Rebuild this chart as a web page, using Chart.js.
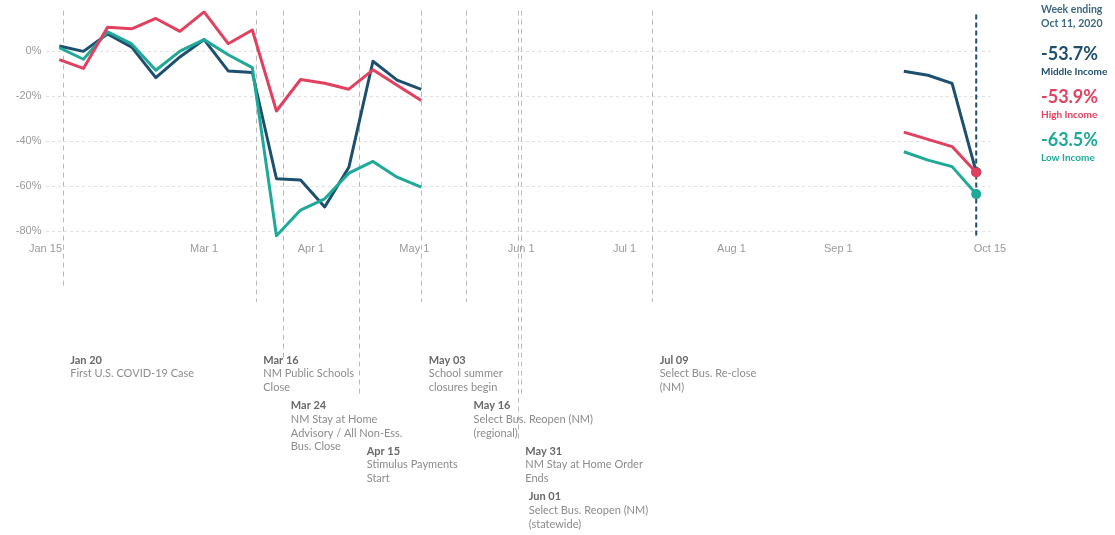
<!DOCTYPE html>
<html>
<head>
<meta charset="utf-8">
<script src="https://cdn.jsdelivr.net/npm/chart.js@4.4.1/dist/chart.umd.min.js"></script>
<style>
body{margin:0;background:#fff;}
#wrap{position:relative;width:1115px;height:535px;}
</style>
</head>
<body>
<div id="wrap"><canvas id="chart" width="1115" height="535"></canvas></div>
<script>
// weekly values, % change
const weekEnding = ["2020-01-19","2020-01-26","2020-02-02","2020-02-09","2020-02-16","2020-02-23","2020-03-01","2020-03-08","2020-03-15","2020-03-22","2020-03-29","2020-04-05","2020-04-12","2020-04-19","2020-04-26","2020-05-03","2020-09-20","2020-09-27","2020-10-04","2020-10-11"];
const middleIncome = [2.3,-0.1,7.6,1.8,-11.8,-2.6,5.1,-8.8,-9.5,-56.7,-57.2,-69.2,-51.6,-4.5,-12.9,-17.0,-8.9,-10.7,-14.3,-53.7];
const highIncome = [-3.8,-7.7,10.6,9.9,14.5,8.8,17.4,3.3,9.4,-26.6,-12.6,-14.3,-16.9,-8.3,-15.2,-21.9,-36.0,-39.2,-42.4,-53.9];
const lowIncome = [1.5,-3.6,8.6,3.2,-8.5,0.0,5.1,-1.6,-7.3,-82.0,-70.6,-65.6,-54.2,-49.0,-56.0,-60.4,-44.7,-48.4,-51.3,-63.5];

const tickDates = ["2020-01-15","2020-03-01","2020-04-01","2020-05-01","2020-06-01","2020-07-01","2020-08-01","2020-09-01","2020-10-15"];
const tickLabels = ["Jan 15","Mar 1","Apr 1","May 1","Jun 1","Jul 1","Aug 1","Sep 1","Oct 15"];
const yTicks = [0,-20,-40,-60,-80];

const eventDates = ["2020-01-20","2020-03-16","2020-03-24","2020-04-15","2020-05-03","2020-05-16","2020-05-31","2020-06-01","2020-07-09"];
const eventTitles = ["Jan 20","Mar 16","Mar 24","Apr 15","May 03","May 16","May 31","Jun 01","Jul 09"];
const eventTexts = [
["First U.S. COVID-19 Case"],
["NM Public Schools","Close"],
["NM Stay at Home","Advisory / All Non-Ess.","Bus. Close"],
["Stimulus Payments","Start"],
["School summer","closures begin"],
["Select Bus. Reopen (NM)","(regional)"],
["NM Stay at Home Order","Ends"],
["Select Bus. Reopen (NM)","(statewide)"],
["Select Bus. Re-close","(NM)"]
];

// layout of the annotation block (not data)
const eventRow = [0,0,1,2,0,1,2,3,0];
const eventLineEnd = [288,302,362,395,302,302,440,395,302];

const MID = "#1d4f6e", HIGH = "#e2405f", LOW = "#1fa999";

const START = Date.UTC(2020,0,15);
function day(s){
  let p = s.split("-");
  return (Date.UTC(+p[0],p[1]-1,+p[2]) - START) / 86400000;
}

function points(vals){
  let out = [];
  weekEnding.forEach((d,i)=>{
    if(i>0 && day(d) - day(weekEnding[i-1]) > 7) out.push({x:day(d)-1, y:null});
    out.push({x:day(d), y:vals[i]});
  });
  return out;
}

function lastDot(c){
  return c.dataIndex === c.dataset.data.length-1 ? 5 : 0;
}

const eventsPlugin = {
  id:"events",
  beforeDatasetsDraw(chart){
    const ctx = chart.ctx, xs = chart.scales.x, top = chart.chartArea.top;
    ctx.save();
    ctx.strokeStyle = "#b9b9b9";
    ctx.lineWidth = 1;
    ctx.setLineDash([5,4]);
    eventDates.forEach((d,i)=>{
      let x = Math.round(xs.getPixelForValue(day(d))) + 0.5;
      ctx.beginPath();
      ctx.moveTo(x, top);
      ctx.lineTo(x, eventLineEnd[i]);
      ctx.stroke();
    });
    // latest week marker
    let xl = xs.getPixelForValue(day(weekEnding[weekEnding.length-1]));
    ctx.strokeStyle = MID;
    ctx.lineWidth = 2;
    ctx.setLineDash([5,3]);
    ctx.beginPath();
    ctx.moveTo(xl, top+4);
    ctx.lineTo(xl, chart.chartArea.bottom-2);
    ctx.stroke();
    ctx.restore();
  },
  afterDraw(chart){
    const ctx = chart.ctx, xs = chart.scales.x;
    ctx.save();
    ctx.textBaseline = "middle";
    ctx.textAlign = "left";
    eventDates.forEach((d,i)=>{
      let x = xs.getPixelForValue(day(d)) + 7.5;
      let y = 360 + eventRow[i]*45.6;
      ctx.font = "bold 11px Lato";
      ctx.fillStyle = "#686868";
      ctx.fillText(eventTitles[i], x, y);
      ctx.font = "11px Lato";
      ctx.fillStyle = "#8c8c8c";
      eventTexts[i].forEach((t,j)=>{
        ctx.fillText(t, x, y + 13.7*(j+1));
      });
    });

    // right side legend
    const lx = 1041, n = weekEnding.length-1;
    ctx.fillStyle = "#3d6884";
    ctx.font = "bold 10.5px Lato";
    ctx.fillText("Week ending", lx, 10);
    ctx.fillText("Oct 11, 2020", lx, 24);
    const items = [
      [middleIncome[n], "Middle Income", MID, 54],
      [highIncome[n], "High Income", HIGH, 97],
      [lowIncome[n], "Low Income", LOW, 140]
    ];
    items.forEach(it=>{
      ctx.fillStyle = it[2];
      ctx.font = "bold 18px Lato";
      ctx.fillText(it[0].toFixed(1)+"%", lx, it[3]);
      ctx.font = "bold 10px Lato";
      ctx.fillText(it[1], lx, it[3]+18);
    });
    ctx.restore();
  }
};

new Chart(document.getElementById("chart"),{
  type:"line",
  data:{
    datasets:[
      {label:"High Income", data:points(highIncome), borderColor:HIGH, backgroundColor:HIGH, order:1},
      {label:"Low Income", data:points(lowIncome), borderColor:LOW, backgroundColor:LOW, order:2},
      {label:"Middle Income", data:points(middleIncome), borderColor:MID, backgroundColor:MID, order:3}
    ]
  },
  options:{
    responsive:false,
    animation:false,
    devicePixelRatio:1,
    layout:{padding:{top:8,right:125,bottom:277,left:0}},
    plugins:{legend:{display:false},tooltip:{enabled:false}},
    elements:{
      line:{borderWidth:3,tension:0,borderJoinStyle:"round"},
      point:{radius:lastDot,borderWidth:0,hoverRadius:0}
    },
    scales:{
      x:{
        type:"linear",
        min:0,
        max:day("2020-10-15"),
        afterBuildTicks:s=>{ s.ticks = tickDates.map(d=>({value:day(d)})); },
        afterFit:s=>{ s.height = 20; },
        ticks:{
          autoSkip:false,maxRotation:0,padding:4,color:"#9a9a9a",
          font:{family:"Liberation Sans",size:11},
          callback:v=>tickLabels[tickDates.findIndex(d=>day(d)===v)]
        },
        grid:{display:false,drawTicks:false},
        border:{display:false}
      },
      y:{
        min:-83,
        max:18,
        afterBuildTicks:s=>{ s.ticks = yTicks.map(v=>({value:v})); },
        afterFit:s=>{ s.width = 45.5; },
        ticks:{
          padding:4,color:"#9a9a9a",
          font:{family:"Liberation Sans",size:11},
          callback:v=>v+"%"
        },
        grid:{color:"#e0e0e0",lineWidth:1,drawTicks:false},
        border:{display:false,dash:[3,3]}
      }
    }
  },
  plugins:[eventsPlugin]
});
</script>
</body>
</html>
